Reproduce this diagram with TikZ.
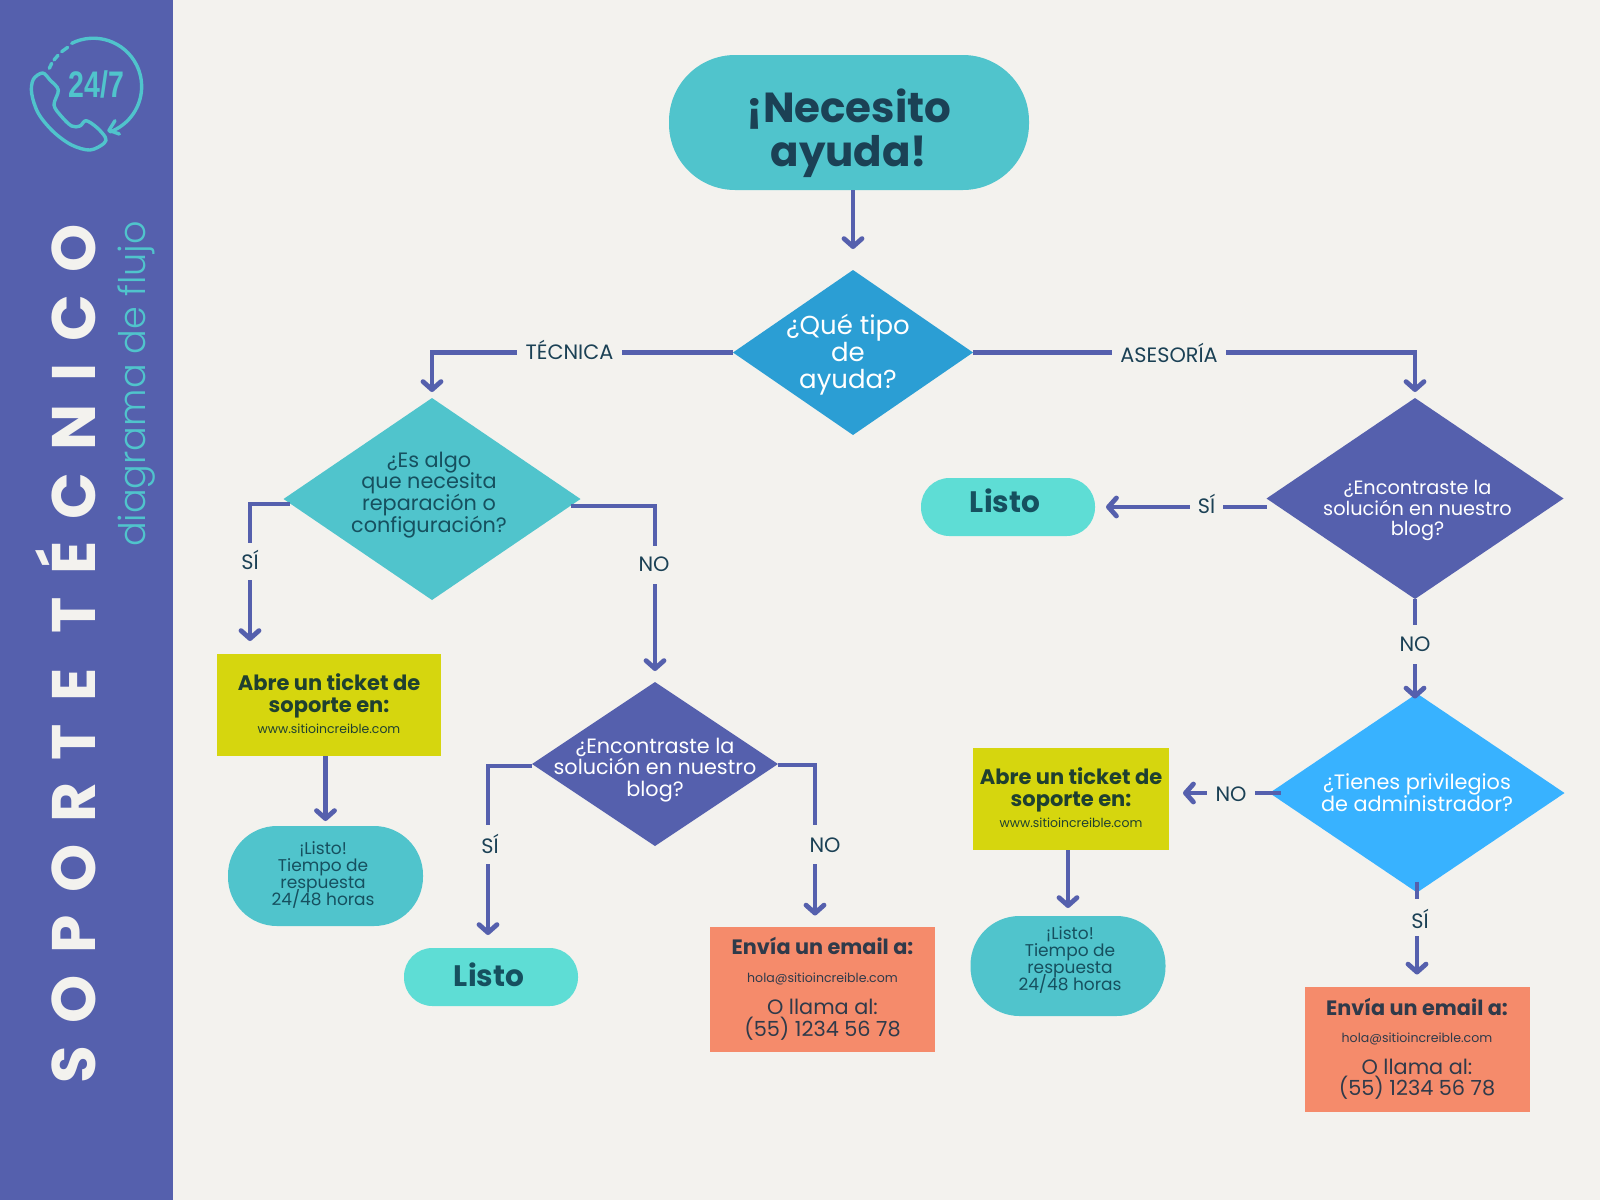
\documentclass[tikz,border=0pt]{standalone}
\usepackage{fontspec}
\setmainfont{Poppins}
\newfontfamily\lightfont{Poppins Light}
\newfontfamily\sidefont[LetterSpace=36.2]{Poppins Bold}
\newfontfamily\cnfont[FakeStretch=0.77]{Liberation Sans}
\usetikzlibrary{arrows.meta,shapes.geometric}
\definecolor{bg}{HTML}{F3F2EE}
\definecolor{bar}{HTML}{5560AD}
\definecolor{teal}{HTML}{50C4CC}
\definecolor{aqua}{HTML}{5EDDD5}
\definecolor{azul}{HTML}{2B9ED4}
\definecolor{sky}{HTML}{38B2FF}
\definecolor{lime}{HTML}{D6D60E}
\definecolor{coral}{HTML}{F58B6B}
\definecolor{ink}{HTML}{1B4155}
\definecolor{inkb}{HTML}{16505F}
\definecolor{inkc}{HTML}{1F4030}
\definecolor{inkd}{HTML}{2F3A4A}
\newcommand{\fs}[2]{\fontsize{#1}{#2}\selectfont}
\newcommand{\tb}[3]{\makebox[0pt]{\kern#1\raisebox{\dimexpr#2-2.5pt\relax}[0pt][0pt]{\parbox[c]{400pt}{\lineskiplimit=-100pt\centering #3}}\kern-#1}}
\tikzset{
  wh/.style 2 args={minimum width=#1*0.5pt,minimum height=#2*0.5pt},
  shp/.style={inner sep=0pt,outer sep=0pt},
  dia/.style 2 args={shp,diamond,aspect=1,wh={#1}{#2}},
  rct/.style 2 args={shp,rectangle,wh={#1}{#2}},
  pill/.style 2 args={shp,rectangle,rounded corners=#2*0.245pt,wh={#1}{#2}},
  conn/.style={draw=bar,line width=2.4pt,-{Straight Barb[length=4pt,width=9pt,round]}},
  lbl/.style 2 args={shp,rectangle,fill=bg,wh={#1}{#2},text=ink},
  icon/.style={draw=teal,line width=1.7pt,line cap=round,line join=round}
}
\begin{document}
\begin{tikzpicture}[x=0.5pt,y=-0.5pt]
\useasboundingbox (0,0) rectangle (1600,1200);
\fill[bg] (0,0) rectangle (1600,1200);
\fill[bar] (0,0) rectangle (172.5,1200);
% icon
\begin{scope}[x=0.16667pt,y=-0.16667pt]
\draw[icon] (215,130) arc[start angle=-116.6,end angle=69.7,radius=145];
\draw[icon] (358,402) -- (327,391) -- (345,362);
\draw[icon] (185,155) -- (203,142);
\draw[icon] (162,180) -- (174,166);
\draw[icon] (148,205) -- (155,190);
\draw[icon] plot[smooth cycle,tension=0.55] coordinates {(128,219) (150,240) (175,270) (162,315) (185,350) (215,378) (240,378) (258,362) (290,382) (316,412) (312,430) (270,450) (215,435) (160,395) (115,340) (95,280) (100,238)};
\node[text=teal,inner sep=0pt] (clock) at (290,253) {\cnfont\bfseries\fontsize{18.5}{18.5}\selectfont 24/7};
\end{scope}
\node[rotate=90,text=bg,inner sep=0pt] (title) at (66,654) {\sidefont\fs{30.7}{31}SOPORTE TÉCNICO};
\node[rotate=90,text=teal,inner sep=0pt] (sub) at (137,384) {\lightfont\fs{18.3}{18.3}diagrama de flujo};
% shapes
\node[pill={360}{135},fill=teal,text=ink] (top) at (849,122.5) {\tb{0pt}{-5.3pt}{\fs{21}{22}\bfseries ¡Necesito\\ayuda!}};
\node[dia={240}{165},fill=azul,text=white] (q) at (853,352.5) {\tb{-2.5pt}{-1pt}{\fs{13}{13.5}¿Qué tipo\\de\\ayuda?}};
\node[dia={297}{202},fill=teal,text=inkb] (dl) at (432,499) {\tb{-1.5pt}{2pt}{\fs{10.4}{10.9}¿Es algo\\que necesita\\reparación o\\configuración?}};
\node[dia={297}{201},fill=bar,text=white] (dr) at (1415,498.5) {\tb{1.25pt}{-6pt}{\fs{9.65}{10.2}¿Encontraste la\\solución en nuestro\\blog?}};
\node[dia={246}{164},fill=bar,text=white] (dm) at (655,764) {\tb{0pt}{-3pt}{\fs{10.37}{10.9}¿Encontraste la\\solución en nuestro\\blog?}};
\node[dia={295}{199},fill=sky,text=white] (da) at (1417,793) {\tb{0pt}{0pt}{\fs{10.4}{11}¿Tienes privilegios\\de administrador?}};
\node[rct={224}{102},fill=lime,text=inkc] (yl) at (329,705) {\tb{0pt}{0.5pt}{{\fs{10.5}{11}\bfseries Abre un ticket de\\soporte en:\par}\vspace{2.5pt}{\fs{6.23}{8}www.sitioincreible.com\par}}};
\node[rct={196}{102},fill=lime,text=inkc] (yr) at (1071,799) {\tb{0pt}{0.5pt}{{\fs{10.5}{11}\bfseries Abre un ticket de\\soporte en:\par}\vspace{2.5pt}{\fs{6.23}{8}www.sitioincreible.com\par}}};
\node[pill={195}{100},fill=teal,text=inkb] (pl) at (325.5,876) {\tb{-1.2pt}{0.5pt}{\fs{8.5}{8.5}¡Listo!\\Tiempo de\\respuesta\\24/48 horas}};
\node[pill={195}{100},fill=teal,text=inkb] (pr) at (1068,966) {\tb{1pt}{2.8pt}{\fs{8.5}{8.5}¡Listo!\\Tiempo de\\respuesta\\24/48 horas}};
\node[pill={174}{58},fill=aqua,text=inkb] (lm) at (491,977) {\tb{-1pt}{1pt}{\fs{14.8}{15}\bfseries Listo}};
\node[pill={174}{58},fill=aqua,text=inkb] (lr) at (1008,507) {\tb{-1.5pt}{3pt}{\fs{14.8}{15}\bfseries Listo}};
\node[rct={225}{125},fill=coral,text=inkd] (om) at (822.5,989.5) {\tb{0pt}{0.4pt}{{\fs{10.4}{11}\bfseries Envía un email a:\par}\vspace{6.2pt}{\fs{6.28}{8}hola@sitioincreible.com\par}\vspace{5pt}{\fs{10.4}{10.9}O llama al:\\(55) 1234 56 78\par}}};
\node[rct={225}{125},fill=coral,text=inkd] (or) at (1417,1049) {\tb{0pt}{0pt}{{\fs{10.4}{11}\bfseries Envía un email a:\par}\vspace{5.4pt}{\fs{6.28}{8}hola@sitioincreible.com\par}\vspace{5pt}{\fs{10.4}{10.9}O llama al:\\(55) 1234 56 78\par}}};
% connectors
\draw[conn,shorten >=10.5pt] (top.south -| q.north) -- (q.north);
\draw[conn,shorten >=3pt] (q.west) -| (dl.north);
\draw[conn,shorten >=3pt] (q.east) -| (dr.north);
\draw[conn,shorten >=6.5pt] ([xshift=3pt,yshift=-2.5pt]dl.west) -| ([xshift=-39.5pt]yl.north);
\draw[conn,shorten >=5.5pt] ([xshift=-5pt,yshift=-3.5pt]dl.east) -| (dm.north);
\draw[conn,shorten >=2.5pt] (pl.north |- yl.south) -- (pl.north);
\draw[conn,shorten >=6.5pt] ([yshift=-1pt]dm.west) -| ([xshift=-1.5pt]lm.north);
\draw[conn,shorten >=5.75pt] ([yshift=-0.5pt]dm.east) -| ([xshift=-3.75pt]om.north);
\draw[conn,shorten >=5.5pt] (dr.west |- lr.east) -- (lr.east);
\draw[conn,shorten >=-2.5pt] (dr.south) -- (dr.south |- da.north);
\draw[conn,shorten >=7pt] ([xshift=5.5pt]da.west) -- (da.west -| yr.east);
\draw[conn,shorten >=6pt] ([yshift=5.5pt]da.south) -- (or.north);
\draw[conn,shorten >=4pt] (pr.north |- yr.south) -- (pr.north);
% labels
\node[lbl={105}{14}] (l1) at (569.5,352) {\tb{0pt}{1pt}{\fs{10.4}{10.4}TÉCNICA}};
\node[lbl={114}{14}] (l2) at (1169,353) {\tb{0pt}{0pt}{\fs{10.4}{10.4}ASESORÍA}};
\node[lbl={14}{37}] (l3) at (250,561.5) {\tb{0pt}{1pt}{\fs{10.4}{10.4}SÍ}};
\node[lbl={14}{38}] (l4) at (654,565) {\tb{0pt}{0.5pt}{\fs{10.4}{10.4}NO}};
\node[lbl={14}{39}] (l5) at (488,844.5) {\tb{1pt}{0.5pt}{\fs{10.4}{10.4}SÍ}};
\node[lbl={14}{39}] (l6) at (815,844.5) {\tb{5pt}{-0.5pt}{\fs{10.4}{10.4}NO}};
\node[lbl={33}{14}] (l7) at (1206.5,506) {\tb{0pt}{1pt}{\fs{10.4}{10.4}SÍ}};
\node[lbl={14}{39}] (l8) at (1415,644.5) {\tb{0pt}{0pt}{\fs{10.4}{10.4}NO}};
\node[lbl={48}{14}] (l9) at (1231,793) {\tb{0pt}{-0.5pt}{\fs{10.4}{10.4}NO}};
\node[lbl={14}{37}] (l10) at (1417,917.5) {\tb{1.5pt}{-0.5pt}{\fs{10.4}{10.4}SÍ}};
\end{tikzpicture}
\end{document}
